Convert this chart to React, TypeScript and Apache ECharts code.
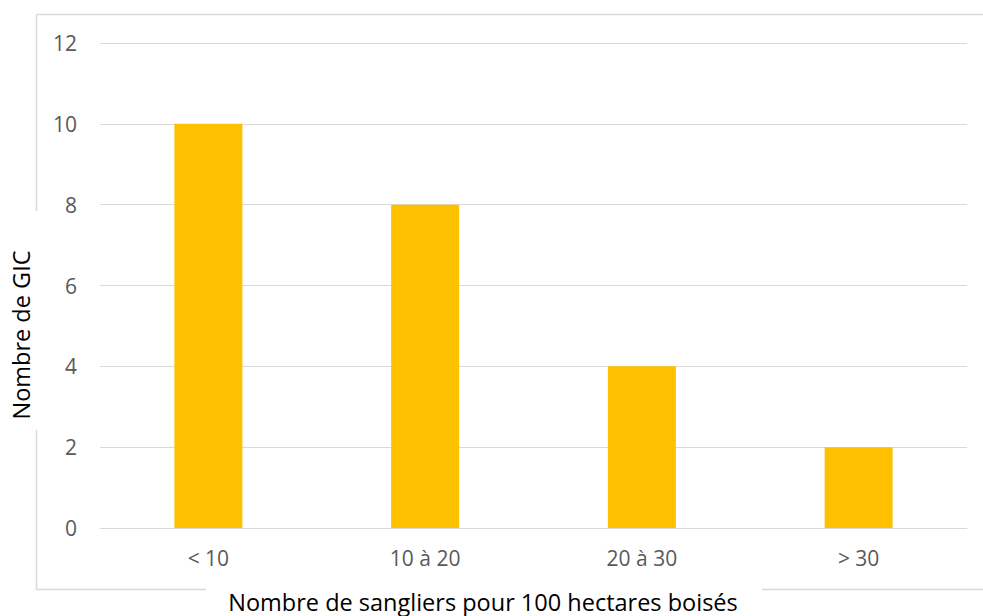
import React, { useEffect, useRef } from "react";
import * as echarts from "echarts";

const categories = ["< 10", "10 à 20", "20 à 30", "> 30"];
const values = [10, 8, 4, 2];
const yTicks = [0, 2, 4, 6, 8, 10, 12];
const xTitle = "Nombre de sangliers pour 100 hectares boisés";
const yTitle = "Nombre de GIC";

export default function App() {
  const ref = useRef<HTMLDivElement>(null);
  useEffect(() => {
    document.body.style.margin = "0";
    const chart = echarts.init(ref.current!, null, { renderer: "svg" });
    const font = "Open Sans";
    const border = "#d9d9d9";
    chart.setOption({
      animation: false,
      backgroundColor: "#ffffff",
      grid: { left: 100, right: 16, top: 43, bottom: 88 },
      xAxis: {
        type: "category",
        data: categories,
        axisTick: { show: false },
        axisLine: { show: true, lineStyle: { color: border, width: 1 } },
        axisLabel: { color: "#595959", fontFamily: font, fontSize: 21, margin: 19 },
      },
      yAxis: {
        type: "value",
        min: yTicks[0],
        max: yTicks[yTicks.length - 1],
        interval: 2,
        axisLine: { show: false },
        axisTick: { show: false },
        splitLine: { lineStyle: { color: border, width: 1 } },
        axisLabel: { color: "#595959", fontFamily: font, fontSize: 21, margin: 23 },
      },
      series: [
        {
          type: "bar",
          data: values,
          barWidth: 68,
          itemStyle: { color: "#FFC000" },
        },
      ],
      graphic: [
        { type: "line", shape: { x1: 36.5, y1: 14.5, x2: 983, y2: 14.5 }, style: { stroke: border, lineWidth: 1.5 } },
        { type: "line", shape: { x1: 36.5, y1: 14.5, x2: 36.5, y2: 211 }, style: { stroke: border, lineWidth: 1.5 } },
        { type: "line", shape: { x1: 36.5, y1: 430, x2: 36.5, y2: 590 }, style: { stroke: border, lineWidth: 1.5 } },
        { type: "line", shape: { x1: 36.5, y1: 589.5, x2: 206, y2: 589.5 }, style: { stroke: border, lineWidth: 1.5 } },
        { type: "line", shape: { x1: 762, y1: 589.5, x2: 983, y2: 589.5 }, style: { stroke: border, lineWidth: 1.5 } },
        {
          type: "text",
          x: 483,
          y: 602,
          style: { text: xTitle, fill: "#000000", font: `23.5px "${font}"`, align: "center", verticalAlign: "middle" },
        },
        {
          type: "text",
          x: 21,
          y: 335,
          rotation: Math.PI / 2,
          style: { text: yTitle, fill: "#000000", font: `23.5px "${font}"`, align: "center", verticalAlign: "middle" },
        },
      ],
    });
    return () => chart.dispose();
  }, []);
  return <div ref={ref} style={{ width: 983, height: 616 }} />;
}
